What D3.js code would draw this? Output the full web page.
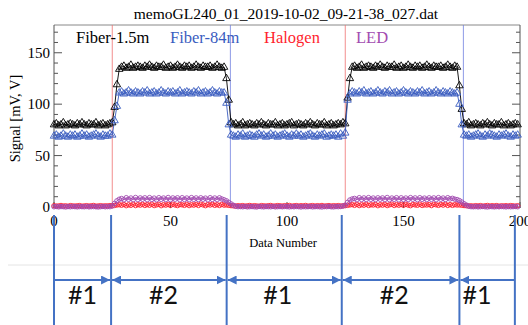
<!DOCTYPE html>
<html><head><meta charset="utf-8">
<script src="https://cdn.jsdelivr.net/npm/d3@7"></script>
<style>body{margin:0;background:#fff}svg{display:block}</style>
</head><body>
<svg id="c" width="528" height="325"></svg>
<script>
const title = "memoGL240_01_2019-10-02_09-21-38_027.dat";
const seriesNames = ["Fiber-1.5m","Fiber-84m","Halogen","LED"];
const seriesColors = ["#000000","#3a5cc0","#ff1f2f","#a24bb0"];
const xTicks = [0,50,100,150,200];
const yTicks = [0,50,100,150];
const redMarks = [25,125];
const blueMarks = [75.7,175.7];
const segBounds = [0,24.5,74.1,123.5,174,197.8];
const segLabels = ["#1","#2","#1","#2","#1"];
const segLabelPos = [12.2,47,96,146,181.5];

const fiber15 = [
80,81,79,80,82,79,80,81,80,79,
81,80,82,80,79,81,80,80,82,79,
80,81,79,80,81,82,97,119,134,136,
137,135,136,138,135,136,137,136,135,137,
136,138,136,135,137,136,136,138,135,136,
137,135,136,138,136,135,137,136,137,135,
136,138,136,135,137,136,136,137,135,136,
138,136,135,136,125,104,82,80,81,79,
80,82,79,80,81,80,79,81,80,82,
80,79,81,80,80,82,79,80,81,79,
80,81,82,79,80,81,80,79,81,80,
82,80,79,81,80,80,82,79,80,81,
79,80,81,80,82,81,106,125,136,137,
135,136,138,135,136,137,136,135,137,136,
138,136,135,137,136,136,138,135,136,137,
135,136,138,136,135,137,136,137,135,136,
138,136,135,137,136,136,137,135,136,138,
136,135,137,136,118,95,81,80,82,79,
80,81,80,79,81,80,82,80,79,81,
80,80,82,79,80,81,79,80,81,80];

const fiber84 = [
69,70,68,69,71,69,68,70,69,70,
68,69,71,69,70,68,69,70,71,69,
68,70,69,69,71,70,84,98,111,112,
110,111,113,111,110,112,111,110,112,111,
113,110,111,112,110,111,113,111,110,112,
111,112,110,111,113,110,111,112,111,110,
112,111,113,110,111,112,110,111,113,111,
110,112,111,111,101,80,70,69,68,70,
69,71,68,69,70,69,68,70,71,69,
70,68,69,71,69,70,68,69,70,71,
69,68,70,69,71,69,70,68,69,70,
71,69,68,70,69,70,71,68,69,70,
69,70,68,71,69,72,104,110,112,111,
110,112,111,113,110,111,112,110,111,113,
111,110,112,111,113,110,111,112,110,111,
113,111,110,112,111,110,112,111,113,110,
111,112,110,111,113,111,110,112,111,110,
112,111,110,111,100,80,70,69,70,68,
69,70,71,69,68,70,69,71,70,69,
68,70,69,70,71,69,68,70,69,70];

const halogen = [
1.2,0.8,1.0,1.4,0.9,1.1,0.7,1.3,1.0,0.9,
1.1,1.3,0.8,1.0,1.2,0.9,1.1,1.4,0.8,1.0,
1.2,0.9,1.1,1.0,1.3,1.2,1.5,1.9,2.2,1.7,
2.4,1.3,2.1,1.6,2.6,1.4,2.2,1.8,2.5,1.5,
2.3,1.7,2.6,1.4,2.0,2.5,1.3,2.2,1.8,2.4,
1.5,2.6,1.9,1.4,2.3,2.1,1.6,2.5,1.4,2.2,
1.8,2.4,1.5,2.6,2.0,1.3,2.3,1.9,2.5,1.6,
2.2,1.5,2.4,1.8,2.0,1.6,1.3,1.1,0.9,1.2,
1.0,1.3,0.8,1.1,1.4,0.9,1.2,1.0,0.7,1.3,
1.1,0.9,1.2,1.4,0.8,1.0,1.3,1.1,0.9,1.2,
1.0,1.4,0.8,1.1,1.3,0.9,1.2,1.0,1.4,0.8,
1.1,1.3,0.9,1.2,1.0,1.4,0.8,1.1,1.3,0.9,
1.2,1.0,1.3,0.9,1.1,1.3,1.6,2.0,2.3,1.6,
2.5,1.4,2.2,1.7,2.6,1.5,2.1,1.9,2.4,1.3,
2.2,1.8,2.5,1.4,2.1,2.6,1.5,2.3,1.7,2.4,
1.6,2.5,1.8,1.3,2.4,2.0,1.7,2.6,1.5,2.1,
1.9,2.3,1.4,2.5,2.1,1.6,2.4,1.8,2.6,1.5,
2.3,1.6,2.2,1.9,2.0,1.7,1.4,1.2,1.0,1.1,
0.9,1.2,1.0,1.3,0.8,1.1,1.4,0.9,1.2,1.0,
1.3,0.8,1.1,1.0,1.2,0.9,1.3,1.1,0.8,1.2];

const led = [
0.2,0.5,0.1,0.4,0.3,0.0,0.4,0.2,0.5,0.3,
0.1,0.4,0.3,0.2,0.5,0.1,0.3,0.4,0.2,0.0,
0.3,0.5,0.2,0.4,0.3,1.0,3.5,6.0,7.5,8.2,
7.0,9.0,7.4,8.7,7.1,9.2,7.2,8.8,7.5,8.9,
7.1,9.1,7.3,8.6,7.0,9.0,7.4,8.7,7.2,9.2,
7.1,8.8,7.5,8.9,7.0,9.0,7.3,8.7,7.1,9.1,
7.4,8.8,7.2,8.9,7.5,8.6,7.0,9.0,7.3,8.7,
7.2,8.9,7.8,7.0,6.0,4.5,3.0,1.6,0.7,0.3,
0.4,0.2,0.5,0.1,0.3,0.4,0.2,0.0,0.5,0.3,
0.1,0.4,0.3,0.2,0.5,0.1,0.3,0.4,0.2,0.5,
0.3,0.1,0.4,0.2,0.5,0.3,0.0,0.4,0.2,0.3,
0.5,0.1,0.3,0.4,0.2,0.0,0.4,0.3,0.5,0.2,
0.1,0.4,0.3,0.5,0.9,1.8,4.5,6.8,7.8,8.3,
7.1,9.0,7.3,8.8,7.2,9.1,7.4,8.7,7.1,8.9,
7.5,8.8,7.2,9.2,7.1,8.7,7.4,9.0,7.0,8.9,
7.3,8.7,7.2,9.1,7.5,8.8,7.1,9.0,7.4,8.6,
7.2,8.9,7.4,8.8,7.1,9.1,7.5,8.7,7.2,9.0,
7.8,8.4,7.6,7.2,6.2,4.8,3.2,1.8,0.8,0.3,
0.2,0.4,0.1,0.3,0.5,0.2,0.0,0.4,0.3,0.1,
0.4,0.2,0.5,0.3,0.1,0.4,0.2,0.3,0.5,0.2];

const allSeries = [fiber15, fiber84, halogen, led];

const svg = d3.select("#c");
const X = d3.scaleLinear().domain([0,200]).range([54,520]);
const Y = d3.scaleLinear().domain([-1,177]).range([208,25]);
const serif = "'Liberation Serif','Times New Roman',serif";
const axisCol = "#555";

// title
svg.append("text").attr("x",(X(0)+X(200))/2 - 1).attr("y",19).attr("text-anchor","middle")
  .attr("font-family",serif).attr("font-size",15.5).text(title);

// frame: top
svg.append("line").attr("x1",X(0)).attr("x2",X(200)).attr("y1",Y.range()[1]).attr("y2",Y.range()[1])
  .attr("stroke","#888").attr("stroke-width",1);

// vertical reference lines
svg.selectAll(".rm").data(redMarks).enter().append("line")
  .attr("x1",d=>X(d)).attr("x2",d=>X(d)).attr("y1",Y.range()[1]).attr("y2",Y.range()[0])
  .attr("stroke","#f07070").attr("stroke-width",0.8);
svg.selectAll(".bm").data(blueMarks).enter().append("line")
  .attr("x1",d=>X(d)).attr("x2",d=>X(d)).attr("y1",Y.range()[1]).attr("y2",Y.range()[0])
  .attr("stroke","#7080e0").attr("stroke-width",0.8);

// left axis (ticks inward)
const minor = d3.range(0,171,10);
const gL = svg.append("g").attr("transform",`translate(${X(0)},0)`);
gL.append("line").attr("y1",Y.range()[1]).attr("y2",Y.range()[0]).attr("stroke",axisCol);
gL.selectAll(".mn").data(minor).enter().append("line")
  .attr("x1",0).attr("x2",d=>d%50===0?8:4).attr("y1",d=>Y(d)).attr("y2",d=>Y(d)).attr("stroke",axisCol);
gL.selectAll(".tl").data(yTicks).enter().append("text")
  .attr("x",-4).attr("y",d=>Y(d)+5).attr("text-anchor","end")
  .attr("font-family",serif).attr("font-size",15).text(d=>d);
// right axis
const gR = svg.append("g").attr("transform",`translate(${X(200)},0)`);
gR.append("line").attr("y1",Y.range()[1]).attr("y2",Y.range()[0]).attr("stroke",axisCol);
gR.selectAll(".mn").data(minor).enter().append("line")
  .attr("x1",0).attr("x2",d=>d%50===0?-8:-4).attr("y1",d=>Y(d)).attr("y2",d=>Y(d)).attr("stroke",axisCol);
// bottom axis
const gB = svg.append("g");
gB.selectAll(".bt").data(xTicks).enter().append("line")
  .attr("x1",d=>X(d)).attr("x2",d=>X(d)).attr("y1",Y.range()[0]).attr("y2",Y.range()[0]-6).attr("stroke",axisCol);
gB.selectAll(".bl").data(xTicks).enter().append("text")
  .attr("x",d=>X(d)).attr("y",226).attr("text-anchor","middle")
  .attr("font-family",serif).attr("font-size",15).text(d=>d);
svg.append("text").attr("x",(X(0)+X(200))/2 - 4).attr("y",247).attr("text-anchor","middle")
  .attr("font-family",serif).attr("font-size",12.5).text("Data Number");
svg.append("text").attr("transform",`translate(20,${(Y.range()[0]+Y.range()[1])/2+2}) rotate(-90)`)
  .attr("text-anchor","middle").attr("font-family",serif).attr("font-size",14.5).text("Signal [mV, V]");

// series
const tri = d3.symbol().type(d3.symbolTriangle).size(24);
const circ = d3.symbol().type(d3.symbolCircle).size(16);
allSeries.forEach((vals,si)=>{
  const col = seriesColors[si];
  const pts = vals.map((v,i)=>[X(i),Y(v)]);
  svg.append("path").attr("d",d3.line()(pts)).attr("fill","none").attr("stroke",col).attr("stroke-width",0.9);
  svg.append("g").selectAll("path").data(pts).enter().append("path")
    .attr("transform",d=>`translate(${d[0]},${d[1]})`)
    .attr("d", si<2 ? tri() : circ())
    .attr("fill","none").attr("stroke",col).attr("stroke-width",0.9);
});

// legend
const legX = [76,170,264,356];
seriesNames.forEach((n,i)=>{
  svg.append("text").attr("x",legX[i]).attr("y",43).attr("font-family",serif).attr("font-size",16.5)
    .attr("fill",seriesColors[i]).text(n);
});

// annotation
const annCol = "#4472c4";
svg.append("line").attr("x1",8).attr("x2",528).attr("y1",265).attr("y2",265).attr("stroke","#e4e4e4").attr("stroke-width",1);
svg.append("defs").html(`
<marker id="ah" viewBox="0 0 10 10" refX="10" refY="5" markerWidth="4.5" markerHeight="4.5" orient="auto-start-reverse" markerUnits="strokeWidth">
<path d="M0,0 L10,5 L0,10 z" fill="${annCol}"/></marker>`);
svg.selectAll(".vb").data(segBounds).enter().append("line")
  .attr("x1",d=>X(d)).attr("x2",d=>X(d)).attr("y1",215).attr("y2",325)
  .attr("stroke",annCol).attr("stroke-width",2);
const segs = d3.range(segBounds.length-1).map(i=>({a:segBounds[i],b:segBounds[i+1],i}));
svg.selectAll(".ar").data(segs).enter().append("line")
  .attr("x1",d=>X(d.a)+(d.i>0?1:0)).attr("x2",d=>X(d.b)-(d.i<segs.length-1?1:0))
  .attr("y1",280).attr("y2",280).attr("stroke",annCol).attr("stroke-width",2)
  .attr("marker-start",d=>d.i>0?"url(#ah)":null)
  .attr("marker-end",d=>d.i<segs.length-1?"url(#ah)":null);
svg.selectAll(".sl").data(segLabels).enter().append("text")
  .attr("x",(d,i)=>X(segLabelPos[i])).attr("y",304).attr("text-anchor","middle")
  .attr("font-family","Lato,'Open Sans',sans-serif").attr("font-size",25).attr("fill","#111").text(d=>d);
</script>
</body></html>
